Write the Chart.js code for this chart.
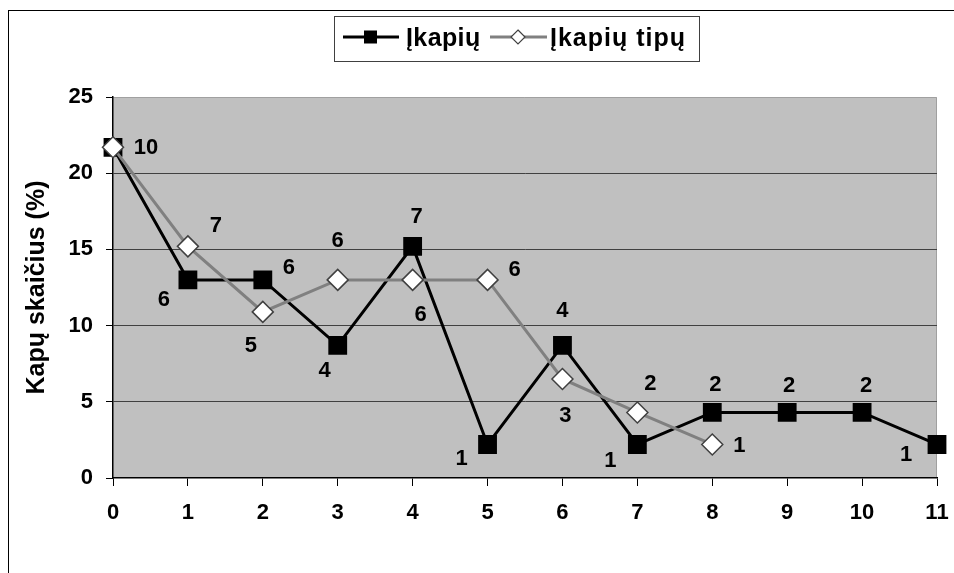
<!DOCTYPE html>
<html>
<head>
<meta charset="utf-8">
<script src="https://cdn.jsdelivr.net/npm/chart.js@4.4.0/dist/chart.umd.min.js"></script>
<style>
	body { margin: 0; background: #fff; }
	#wrap { width: 954px; height: 573px; }
</style>
</head>
<body>
<div id="wrap"><canvas id="myChart"></canvas></div>
<script>
var categories = ["0", "1", "2", "3", "4", "5", "6", "7", "8", "9", "10", "11"];
var ikapiuPct = [21.7, 13.0, 13.0, 8.7, 15.2, 2.2, 8.7, 2.2, 4.3, 4.3, 4.3, 2.2];
var ikapiuCount = [10, 6, 6, 4, 7, 1, 4, 1, 2, 2, 2, 1];
var tipuPct = [21.7, 15.2, 10.9, 13.0, 13.0, 13.0, 6.5, 4.3, 2.2];
var tipuCount = [null, 7, 5, 6, 6, 6, 3, 2, 1];
var seriesNames = ["Įkapių", "Įkapių tipų"];
var yTitle = "Kapų skaičius (%)";

// where each count label sits relative to its point (px)
var ikapiuLabelPos = [[33, 0], [-24, 19], [26, -13], [-13, 25], [4, -30], [-26, 13], [0, -35], [-27, 15], [3, -29], [2, -28], [4, -28], [-31, 9]];
var tipuLabelPos = [null, [28, -21], [-12, 33], [0, -40], [8, 34], [27, -11], [3, 36], [13, -30], [27, 0]];

var FONT = "'Liberation Sans', Arial, sans-serif";
var boldFont = { family: FONT, size: 22, weight: "bold" };
var titleFont = { family: FONT, size: 25, weight: "bold" };

var frame = {
	id: "frame",
	beforeDraw(chart) {
		var ctx = chart.ctx;
		var a = chart.chartArea;
		ctx.save();
		ctx.fillStyle = "#c0c0c0";
		ctx.fillRect(a.left, a.top, a.right - a.left, a.bottom - a.top);
		ctx.strokeStyle = "#a0a0a0";
		ctx.lineWidth = 1;
		ctx.beginPath();
		ctx.moveTo(a.left, a.top + 0.5);
		ctx.lineTo(a.right - 0.5, a.top + 0.5);
		ctx.lineTo(a.right - 0.5, a.bottom);
		ctx.stroke();
		ctx.strokeStyle = "#000";
		ctx.strokeRect(8.5, 10.5, 1000, 1000);
		ctx.restore();
	},
	afterDatasetsDraw(chart) {
		var ctx = chart.ctx;
		ctx.save();
		ctx.font = "bold 22px " + FONT;
		ctx.fillStyle = "#000";
		ctx.textAlign = "center";
		ctx.textBaseline = "middle";
		var sets = [[ikapiuCount, ikapiuLabelPos], [tipuCount, tipuLabelPos]];
		sets.forEach((s, di) => {
			var meta = chart.getDatasetMeta(di);
			meta.data.forEach((pt, i) => {
				if (s[0][i] == null || s[1][i] == null) return;
				ctx.fillText(String(s[0][i]), pt.x + s[1][i][0], pt.y + s[1][i][1] + 1);
			});
		});
		ctx.restore();
	},
	afterDraw(chart) {
		var ctx = chart.ctx;
		ctx.save();
		// legend box
		ctx.fillStyle = "#fff";
		ctx.fillRect(334, 16, 365, 45);
		ctx.strokeStyle = "#404040";
		ctx.lineWidth = 1;
		ctx.strokeRect(334.5, 16.5, 365, 45);
		var cy = 37;
		// black series sample
		ctx.strokeStyle = "#000";
		ctx.lineWidth = 3;
		ctx.beginPath();
		ctx.moveTo(343, cy);
		ctx.lineTo(399, cy);
		ctx.stroke();
		ctx.fillStyle = "#000";
		ctx.fillRect(364, cy - 6.5, 13, 13);
		// grey series sample
		ctx.strokeStyle = "#808080";
		ctx.beginPath();
		ctx.moveTo(490, cy);
		ctx.lineTo(547, cy);
		ctx.stroke();
		ctx.fillStyle = "#fff";
		ctx.strokeStyle = "#404040";
		ctx.lineWidth = 1.2;
		ctx.beginPath();
		ctx.moveTo(518, cy - 7);
		ctx.lineTo(525, cy);
		ctx.lineTo(518, cy + 7);
		ctx.lineTo(511, cy);
		ctx.closePath();
		ctx.fill();
		ctx.stroke();
		ctx.font = "bold 25px " + FONT;
		ctx.fillStyle = "#000";
		ctx.textAlign = "left";
		ctx.textBaseline = "alphabetic";
		ctx.letterSpacing = "0.4px";
		ctx.fillText(seriesNames[0], 406, 46);
		ctx.letterSpacing = "1px";
		ctx.fillText(seriesNames[1], 550, 46);
		ctx.restore();
	},
};

const ctx = document.getElementById("myChart").getContext("2d");
var chart = new Chart(ctx, {
	type: "line",
	data: {
		labels: categories,
		datasets: [
			{
				label: seriesNames[0],
				data: ikapiuPct,
				borderColor: "#000",
				borderWidth: 3,
				pointStyle: "rect",
				pointRadius: 13.3,
				pointBackgroundColor: "#000",
				pointBorderColor: "#000",
				pointBorderWidth: 0,
				tension: 0,
				fill: false,
				order: 1,
			},
			{
				label: seriesNames[1],
				data: tipuPct,
				borderColor: "#808080",
				borderWidth: 3,
				pointStyle: "rectRot",
				pointRadius: 10.5,
				pointBackgroundColor: "#fff",
				pointBorderColor: "#404040",
				pointBorderWidth: 1.5,
				tension: 0,
				fill: false,
				order: 0,
			},
		],
	},
	options: {
		responsive: true,
		maintainAspectRatio: false,
		animation: false,
		events: [],
		layout: { padding: { top: 97, right: 17, left: 0, bottom: 0 } },
		plugins: {
			legend: { display: false },
			tooltip: { enabled: false },
		},
		scales: {
			x: {
				offset: false,
				afterFit: (s) => {
					s.height = 95;
					s.paddingLeft = 0;
					s.paddingRight = 0;
				},
				grid: { drawOnChartArea: false, drawTicks: true, tickLength: 8, tickColor: "#000", tickWidth: 1 },
				border: { color: "#000", width: 1.5 },
				ticks: { color: "#000", font: boldFont, padding: 14, maxRotation: 0 },
			},
			y: {
				min: 0,
				max: 25,
				afterFit: (s) => {
					s.width = 113;
					s.paddingTop = 0;
					s.paddingBottom = 0;
				},
				grid: {
					color: (c) => (c.tick && (c.tick.value === 25 || c.tick.value === 0) ? "rgba(0,0,0,0)" : "#404040"),
					lineWidth: 1,
					drawTicks: true,
					tickLength: 7,
					tickColor: "#000",
				},
				border: { color: "#000", width: 1.5 },
				ticks: { stepSize: 5, color: "#000", font: boldFont, padding: 13 },
				title: { display: true, text: yTitle, color: "#000", font: titleFont, padding: { top: 22, bottom: 0 } },
			},
		},
	},
	plugins: [frame],
});
</script>
</body>
</html>
